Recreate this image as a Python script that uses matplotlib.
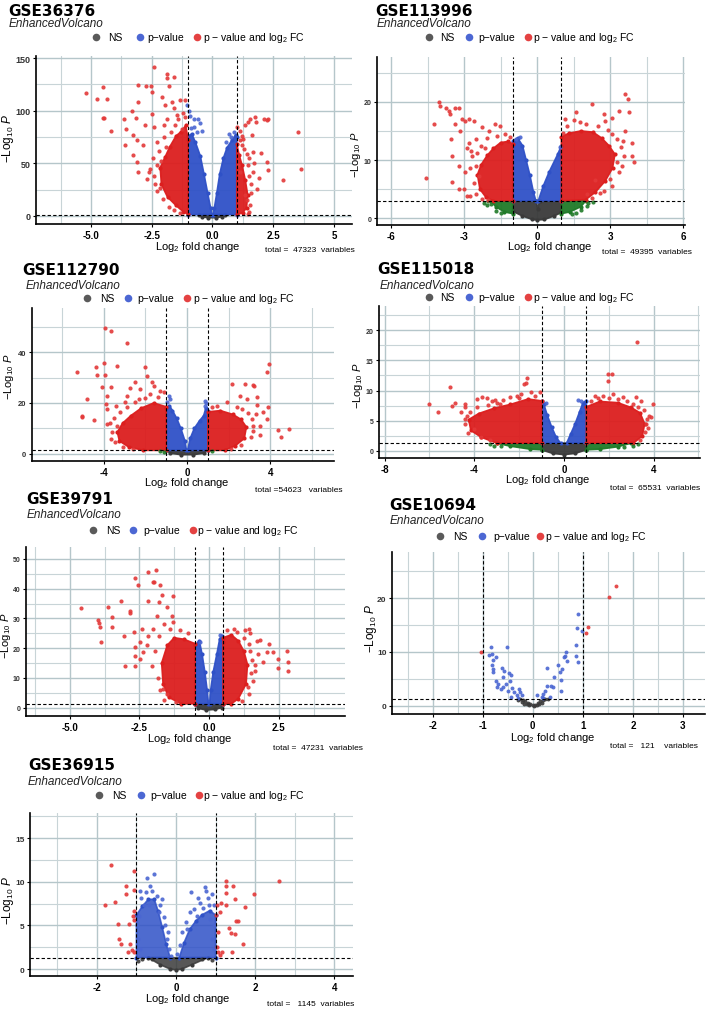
import matplotlib
matplotlib.use('Agg')
import matplotlib.pyplot as plt
from matplotlib.ticker import MultipleLocator

plt.rcParams['font.family'] = ['Liberation Sans', 'DejaVu Sans']
plt.rcParams['mathtext.fontset'] = 'custom'
plt.rcParams['mathtext.rm'] = 'Liberation Sans'
plt.rcParams['mathtext.it'] = 'Liberation Sans:italic'
plt.rcParams['mathtext.bf'] = 'Liberation Sans:bold'

# ---------------- data ----------------
# each "area" is the outline of a dense cloud, "pts" are single points

# GSE36376
gse36376_total = 47323
gse36376_grey = [(-0.55, 1.3), (-0.45, -0.6), (-0.2, -1.6), (0.15, -1.6), (0.4, -0.6), (0.5, 1.3)]
gse36376_blue_l = [(-1.0, 1.3), (-1.0, 76), (-0.85, 78), (-0.7, 70), (-0.5, 57), (-0.35, 40),
                   (-0.2, 22), (-0.08, 8), (-0.02, 1.3)]
gse36376_blue_r = [(0.02, 1.3), (0.08, 8), (0.18, 22), (0.3, 40), (0.45, 55), (0.6, 65),
                   (0.8, 72), (0.95, 77), (1.0, 75), (1.0, 1.3)]
gse36376_blue_pts = [(-1.03, 105), (-0.97, 100), (-0.92, 95), (-0.78, 92), (-0.58, 92), (-0.51, 88),
                     (-0.75, 85), (-0.44, 81), (-0.62, 80), (-0.9, 84), (0.66, 78), (0.75, 75),
                     (0.88, 80), (0.55, 70)]
gse36376_red_l = [(-1.0, 1.5), (-1.0, 72), (-1.1, 86), (-1.3, 80), (-1.5, 76), (-1.75, 66), (-1.95, 56),
                  (-2.15, 46), (-2.1, 30), (-1.85, 18), (-1.5, 10), (-1.2, 4)]
gse36376_red_r = [(1.0, 1.5), (1.0, 68), (1.1, 58), (1.22, 48), (1.35, 34), (1.45, 20), (1.4, 8), (1.25, 3)]
gse36376_red_pts = [(-5.19, 116.5), (-4.52, 122.8), (-4.73, 111.4), (-4.34, 110.8), (-4.52, 93.4),
                    (-4.45, 93), (-4.16, 80.7), (-3.66, 91.8), (-3.55, 82.3), (-3.32, 100), (-3.14, 93.4),
                    (-3.05, 124.7), (-3.07, 108.2), (-2.74, 123.1), (-2.53, 123.1), (-2.42, 141.5),
                    (-1.88, 135.1), (-1.88, 131.3), (-1.6, 132), (-1.78, 123.4), (-2.49, 117.7),
                    (-2.08, 113), (-1.33, 109.8), (-1.12, 109.8), (-1.95, 105), (-1.6, 102.5),
                    (-2.49, 97.2), (-3.11, 71.8), (-3.25, 76.6), (-3.59, 67.1), (-3.25, 57.6),
                    (-3.11, 51.3), (-3.08, 41.8), (-2.7, 35.4), (-2.63, 41.8), (-2.29, 48.1),
                    (-2.84, 67.1), (-2.77, 86.1), (-2.42, 84.5), (-2.15, 26.6), (-2.29, 70.3),
                    (-1.88, 92.4), (-1.47, 95.6), (-1.26, 82.9),
                    (-2.0, 75), (-1.7, 80), (-1.4, 92), (-2.2, 62), (-2.45, 55), (-2.55, 45), (-2.4, 38),
                    (-2.3, 24), (-2.05, 16), (-1.8, 9), (-1.6, 6), (-1.35, 2.5), (-2.0, 86), (-1.2, 98),
                    (-1.65, 108), (-2.35, 30), (-1.9, 66), (-2.1, 52), (-1.15, 94), (-1.55, 86),
                    (1.02, 84.5), (1.14, 81), (1.34, 86), (1.48, 89), (1.55, 92.4), (1.75, 94),
                    (1.79, 89), (2.1, 92.4), (2.23, 90.8), (2.3, 92.4), (3.53, 79.7), (3.64, 44.9),
                    (2.89, 34.5), (2.3, 43.4), (2.23, 51.3), (2.0, 60.1), (1.82, 25.9), (1.68, 60.8),
                    (1.41, 59.2), (1.27, 73.4), (1.21, 67.1), (1.62, 76.6), (1.41, 14.9), (1.34, 19.6),
                    (1.68, 41.8), (1.48, 48.1), (1.14, 41.8), (1.07, 48.1),
                    (1.58, 30), (1.55, 10), (1.5, 4), (1.2, 76), (1.3, 64), (1.5, 55), (1.72, 50),
                    (1.9, 36), (1.45, 2), (1.6, 22), (1.12, 72), (1.5, 38)]

# GSE113996
gse113996_total = 49395
gse113996_grey = [(-1.0, 3), (-1.0, 1.2), (-0.6, 0.4), (-0.2, -0.2), (0.0, -0.3), (0.3, -0.2), (0.7, 0.4),
                  (1.0, 1.0), (1.0, 3), (0.1, 3), (0.03, 1.6), (-0.05, 3)]
gse113996_green_l = [(-1.0, 3), (-1.9, 3), (-1.7, 2), (-1.35, 1.1), (-1.0, 0.8)]
gse113996_green_r = [(1.0, 3), (2.0, 3), (1.8, 2), (1.35, 1.1), (1.0, 0.8)]
gse113996_green_pts = [(-1.9, 2.5), (-1.7, 1.3), (-2.0, 2.9), (-2.2, 2.6), (-1.5, 0.9), (-2.05, 2.2),
                       (1.8, 1.5), (2.1, 2.7), (1.6, 0.9), (2.3, 2.8), (2.05, 2.1), (1.45, 0.7)]
gse113996_blue_l = [(-1.0, 3), (-1.0, 13.3), (-0.8, 13.8), (-0.6, 12.5), (-0.45, 10), (-0.3, 7.5),
                    (-0.15, 4.5), (-0.05, 3)]
gse113996_blue_r = [(0.05, 3), (1.0, 3), (1.0, 12.5), (0.85, 11), (0.5, 8), (0.25, 5.5)]
gse113996_blue_pts = [(-0.7, 13.9), (-0.88, 13.6), (0.95, 12.3)]
gse113996_red_l = [(-1.0, 3), (-1.0, 12.8), (-1.2, 13.2), (-1.5, 13), (-1.8, 12), (-2.05, 10.8),
                   (-2.3, 9.2), (-2.45, 7.5), (-2.35, 5), (-2.1, 3.6), (-1.8, 3)]
gse113996_red_r = [(1.0, 3), (1.0, 14), (1.3, 14.6), (1.8, 15), (2.3, 14.8), (2.65, 13.8), (2.95, 12.5),
                   (3.2, 11), (3.1, 8.6), (2.8, 6.4), (2.4, 4.5), (2.0, 3.2)]
gse113996_red_pts = [(-4.55, 7.0), (-4.25, 16.2), (-4.04, 20), (-4.01, 19.3), (-3.74, 19), (-3.63, 18.5),
                     (-3.56, 17.9), (-3.36, 19), (-3.22, 19), (-3.08, 17), (-2.95, 16.7), (-2.81, 17),
                     (-2.6, 16.7), (-3.52, 13.6), (-3.49, 6.2), (-3.22, 5.0), (-3.01, 5.0), (-2.88, 3.9),
                     (-2.74, 3.9), (-3.36, 16.2), (-3.15, 15), (-2.81, 13), (-2.67, 10.7), (-2.53, 9),
                     (-2.4, 7.3), (-2.53, 13.6), (-2.26, 15.6), (-1.99, 15), (-1.71, 16.2), (-1.51, 15.9),
                     (-3.22, 9.0), (-2.95, 7.9), (-3.49, 10.7),
                     (-2.7, 11.5), (-2.75, 8.6), (-2.6, 6), (-2.5, 4.2), (-2.25, 3.3), (-2.05, 13.8),
                     (-1.65, 14.2), (-1.3, 14.4), (-2.3, 12.4), (-2.0, 3.2), (-2.9, 12), (-2.45, 11.2),
                     (-1.1, 13.9), (-2.15, 12),
                     (3.6, 21.4), (3.74, 20.5), (2.26, 19.6), (2.74, 17.9), (3.08, 17.3), (2.81, 16.7),
                     (3.36, 18.5), (3.77, 18.2), (3.9, 13), (3.97, 9.6), (3.9, 10.7), (3.56, 10.7),
                     (3.49, 9.0), (3.36, 7.9), (3.08, 5.6), (2.74, 4.7), (2.37, 6.5), (2.05, 4.2),
                     (1.58, 18.2), (1.16, 17), (1.05, 14.7), (1.78, 16.5), (3.08, 14.5), (3.63, 15),
                     (3.45, 12.3), (3.3, 13.6), (3.3, 9.6), (3.0, 6.8), (2.6, 4.3), (2.25, 3.5),
                     (1.25, 15.8), (2.0, 16.2), (2.5, 15.9), (2.9, 15.2), (1.5, 16.8), (3.55, 13.2)]

# GSE112790
gse112790_total = 54623
gse112790_grey = [(-1.0, 1.3), (1.0, 1.3), (0.8, 0.2), (0.3, -0.4), (-0.3, -0.4), (-0.8, 0.2)]
gse112790_green_pts = [(-1.1, 0.8), (1.2, 0.9), (-1.3, 1.0)]
gse112790_blue_l = [(-1.0, 1.3), (-1.0, 18), (-0.85, 19), (-0.7, 17), (-0.5, 14), (-0.3, 10),
                    (-0.1, 5), (-0.03, 1.3)]
gse112790_blue_r = [(0.03, 1.3), (0.15, 6), (0.35, 10), (0.6, 13), (0.8, 15), (0.9, 18), (1.0, 17),
                    (1.0, 1.3)]
gse112790_blue_pts = [(-0.88, 22.9), (-0.8, 21.5), (-0.95, 20.5), (0.88, 20.9), (0.93, 20), (0.85, 19)]
gse112790_red_l = [(-1.0, 1.3), (-1.0, 18.5), (-1.6, 20), (-2.2, 18), (-2.7, 15), (-3.1, 12), (-3.35, 8.5),
                   (-3.25, 5), (-2.8, 2.6), (-2.1, 1.3)]
gse112790_red_r = [(1.0, 1.3), (1.0, 16.5), (1.6, 17), (2.2, 15.5), (2.6, 13.5), (2.85, 10.5), (2.75, 6),
                   (2.3, 3), (1.8, 1.3)]
gse112790_red_pts = [(-5.3, 32.4), (-4.79, 21.6), (-5.06, 14.7), (-5.03, 14.3), (-4.47, 13.4),
                     (-4.39, 34.3), (-4.31, 31.1), (-3.96, 49.6), (-3.67, 48.6), (-3.99, 35.8),
                     (-3.94, 31.1), (-4.07, 26.4), (-3.67, 26.4), (-3.87, 22.9), (-3.91, 19.6),
                     (-3.83, 17.6), (-3.83, 11.7), (-3.35, 34.7), (-2.88, 43.7), (-2.75, 25.8),
                     (-2.48, 28.2), (-2.04, 34.3), (-1.92, 30.5), (-1.68, 28.2), (-1.6, 26.8),
                     (-2.88, 22.9), (-3.43, 18.9), (-3.67, 5.8), (-3.35, 11.1), (-1.28, 24.9),
                     (-1.12, 24.2), (-2.24, 25.5),
                     (-3.5, 14), (-3.2, 16.5), (-2.9, 18.5), (-2.5, 20.5), (-2.0, 22), (-1.4, 22.5),
                     (-3.6, 8.5), (-3.45, 4.5), (-3.1, 2.5), (-2.6, 1.8), (-1.8, 23.5), (-3.0, 20.5),
                     (-3.7, 12), (-2.3, 21.5),
                     (3.96, 35.4), (3.83, 32.1), (3.23, 26.6), (3.15, 27.1), (2.8, 27.5), (2.16, 27.5),
                     (2.56, 22.9), (2.88, 21.6), (3.35, 22.2), (3.91, 18.6), (3.67, 16.6), (3.35, 19.2),
                     (4.39, 9.3), (4.52, 6.4), (4.9, 9.7), (3.83, 13.7), (3.51, 11.1), (3.19, 9.1),
                     (1.92, 20.3), (1.44, 18.9), (2.64, 17.6),
                     (3.1, 13.5), (3.15, 11), (3.05, 6.5), (2.6, 3.5), (2.1, 1.8), (2.4, 18.5),
                     (1.2, 18.3), (3.3, 15.5), (2.95, 16.2), (3.5, 7.5)]

# GSE115018
gse115018_total = 65531
gse115018_grey = [(-1.0, 1.3), (-1.0, 0.2), (-0.5, -0.4), (0.0, -0.6), (0.5, -0.4), (1.0, 0.2), (1.0, 1.3)]
gse115018_green_l = [(-1.0, 1.3), (-3.0, 1.3), (-2.4, 0.8), (-1.5, 0.3), (-1.0, 0.2)]
gse115018_green_r = [(1.0, 1.3), (3.0, 1.3), (2.4, 0.7), (1.6, 0.3), (1.0, 0.2)]
gse115018_green_pts = [(-3.3, 1.1), (3.1, 0.9), (3.3, 1.2), (-2.8, 0.8), (-3.1, 0.9), (2.7, 0.7)]
gse115018_blue_l = [(-1.0, 1.3), (-1.0, 8.3), (-0.9, 7.8), (-0.75, 6), (-0.55, 4), (-0.35, 2.3), (-0.15, 1.3)]
gse115018_blue_r = [(0.12, 1.3), (0.3, 2.8), (0.5, 4.5), (0.7, 6.5), (0.85, 8), (1.0, 8.3), (1.0, 1.3)]
gse115018_blue_pts = [(-0.8, 7.9), (0.64, 8.5), (0.78, 8.3)]
gse115018_red_l = [(-1.0, 1.3), (-1.0, 8.3), (-1.6, 8.6), (-2.4, 7.7), (-3.1, 7.1), (-3.8, 6.2), (-4.25, 5.2),
                   (-4.15, 3.4), (-3.7, 2.3), (-3.0, 1.3)]
gse115018_red_r = [(1.0, 1.3), (1.0, 7.3), (1.6, 8.2), (2.4, 8.0), (3.0, 7.2), (3.4, 6.3), (3.6, 4.5),
                   (3.5, 2.5), (3.1, 1.3)]
gse115018_red_pts = [(-6.04, 7.8), (-5.64, 6.4), (-5.08, 10.6), (-4.98, 7.5), (-4.86, 7.9), (-4.42, 7.8),
                     (-4.43, 7.2), (-3.87, 8.6), (-3.65, 8.9), (-3.43, 8.7), (-3.21, 8.3), (-3.06, 8.4),
                     (-2.84, 7.8), (-1.65, 12), (-1.7, 11.3), (-1.77, 11.1), (-2.1, 9.1), (-1.48, 9.7),
                     (-1.06, 9.7), (-4.31, 5.8), (-4.42, 5.3), (-3.72, 2.3), (-4.02, 3.6), (-2.39, 8.9),
                     (-4.4, 4.4), (-4.2, 6.4), (-3.9, 7.2), (-3.4, 7.6), (-2.7, 8.4), (-2.0, 8.8),
                     (-1.3, 9.1), (-3.3, 1.8), (-4.3, 3.0), (-1.9, 9.5), (-3.0, 7.9), (-4.6, 6.5),
                     (3.26, 18), (1.96, 12.7), (2.14, 12.8), (1.96, 11.6), (1.74, 9.1), (2.19, 9.4),
                     (3.22, 8.9), (3.44, 8.3), (3.96, 7.8), (3.81, 5.8), (3.88, 5.6), (3.63, 3.2),
                     (3.66, 4.5), (3.07, 7.8), (2.63, 8.9), (1.37, 9.1),
                     (1.2, 8.2), (2.0, 8.7), (2.8, 8.2), (3.3, 7.3), (3.7, 5.3), (3.75, 3.8),
                     (3.4, 1.8), (1.5, 8.8), (3.55, 6.8), (2.4, 8.6)]

# GSE39791
gse39791_total = 47231
gse39791_grey = [(-0.5, 1.3), (-0.4, -0.2), (-0.1, -0.8), (0.2, -0.6), (0.45, 0.0), (0.5, 1.3)]
gse39791_blue_l = [(-0.5, 1.3), (-0.5, 21), (-0.35, 22.5), (-0.25, 18), (-0.15, 12), (-0.07, 6), (-0.02, 1.3)]
gse39791_blue_r = [(0.02, 1.3), (0.06, 6), (0.15, 12), (0.28, 18), (0.38, 23), (0.45, 24), (0.5, 22), (0.5, 1.3)]
gse39791_blue_pts = [(-0.32, 22.2), (0.4, 24.5)]
gse39791_red_l = [(-0.5, 1.3), (-0.5, 21.5), (-0.9, 23), (-1.25, 23.5), (-1.5, 21), (-1.7, 15), (-1.65, 8),
                  (-1.45, 3.5), (-1.0, 1.3)]
gse39791_red_r = [(0.5, 1.3), (0.5, 23.5), (0.8, 24.5), (1.05, 22.5), (1.25, 19), (1.38, 14.5), (1.33, 8),
                  (1.05, 3), (0.8, 1.3)]
gse39791_red_pts = [(-4.6, 33.5), (-4.0, 29.5), (-3.96, 28.4), (-3.9, 27), (-3.88, 22.2), (-3.64, 34),
                    (-3.48, 30.6), (-3.5, 27), (-3.15, 35.7), (-3.04, 24), (-3.03, 14.1), (-2.85, 31.8),
                    (-2.83, 32.6), (-2.65, 43.5), (-2.55, 41.3), (-2.7, 25.6), (-2.67, 20.3), (-2.64, 17.5),
                    (-2.67, 14.1), (-2.2, 45.7), (-1.91, 46.4), (-2.02, 42.4), (-1.96, 42.2), (-1.76, 41.3),
                    (-1.7, 37.9), (-2.18, 36), (-1.81, 35.4), (-1.28, 37.4), (-1.88, 30.7), (-1.52, 33.7),
                    (-1.34, 30.9), (-1.28, 28.7), (-2.36, 18.6), (-2.48, 16.4), (-2.24, 20.9), (-2.0, 26.5),
                    (-1.64, 6.3), (-1.52, 4.6), (-2.48, 22), (-2.42, 26.5),
                    (-1.8, 24), (-1.95, 19), (-2.05, 14), (-1.85, 10), (-1.75, 6), (-1.6, 2.5),
                    (-1.4, 26.5), (-1.05, 26), (-0.75, 25), (-1.6, 28), (-2.2, 24), (-1.2, 2.0),
                    (1.02, 25.3), (1.3, 26.2), (1.42, 26.5), (1.48, 25.1), (1.72, 22.5), (1.83, 22.8),
                    (2.17, 21.4), (2.07, 18.6), (2.31, 18.8), (2.49, 16.4), (2.46, 13.2), (2.81, 19.2),
                    (2.85, 15.2), (2.85, 12.2), (1.65, 12.4), (1.59, 9.1), (1.41, 6.8), (1.95, 15.2),
                    (1.48, 19.2),
                    (0.65, 26), (0.9, 26.5), (1.25, 23.5), (1.45, 21.5), (1.55, 16), (1.5, 11.5),
                    (1.45, 4.5), (1.2, 2.2), (1.75, 18), (1.65, 14.5)]

# GSE10694
gse10694_total = 121
gse10694_grey_pts = [(-0.25, 1.2), (-0.2, 1.0), (-0.15, 0.8), (-0.1, 0.5), (-0.05, 0.3), (0.0, 0.1),
                     (0.05, 0.2), (0.1, 0.5), (0.15, 0.8), (0.2, 1.1), (-0.3, 1.0), (-0.22, 0.6),
                     (-0.12, 0.3), (0.12, 0.3), (0.25, 1.2), (-0.08, 0.1), (0.03, 0.0), (0.08, 0.05),
                     (-0.18, 0.4), (0.18, 0.5), (0.3, 1.2)]
gse10694_blue_pts = [(-0.83, 10.9), (-0.87, 9.5), (-0.82, 9.6), (-0.73, 9.0), (-0.79, 8.5), (-0.82, 7.5),
                     (-0.79, 6.8), (-0.8, 6.2), (-0.74, 4.6), (-0.69, 4.0), (-0.71, 3.4), (-0.64, 3.1),
                     (-0.62, 7.0), (-0.57, 6.4), (-0.59, 5.3), (-0.54, 4.0), (-0.52, 11.0), (-0.47, 6.1),
                     (-0.44, 5.8), (-0.45, 4.5), (-0.42, 3.2), (-0.44, 1.6), (-0.37, 2.5), (-0.32, 2.0),
                     (-0.27, 3.1), (-0.25, 2.6), (-0.29, 1.4), (-0.22, 1.9), (-0.5, 2.8), (-0.59, 3.4),
                     (0.08, 1.9), (0.18, 1.7), (0.21, 2.2), (0.25, 2.8), (0.2, 1.4), (0.28, 3.7),
                     (0.29, 7.0), (0.35, 1.7), (0.36, 3.7), (0.41, 3.4), (0.43, 5.4), (0.51, 7.6),
                     (0.55, 6.2), (0.57, 4.7), (0.56, 2.8), (0.58, 6.8), (0.63, 9.0), (0.67, 9.9),
                     (0.68, 8.4), (0.65, 9.3), (0.87, 9.3), (0.91, 8.2), (0.87, 11.2), (0.91, 17.1),
                     (0.88, 14.5), (0.98, 13.9)]
gse10694_red_pts = [(-1.03, 9.9), (1.53, 20.2), (1.67, 22.2), (1.1, 14.7), (1.07, 13.5)]

# GSE36915
gse36915_total = 1145
gse36915_grey = [(-0.7, 1.3), (-0.4, 0.5), (-0.15, 0.0), (0.0, -0.1), (0.15, 0.0), (0.4, 0.5), (0.8, 1.3)]
gse36915_grey_pts = [(-0.85, 1.1), (-0.6, 1.2), (0.65, 1.2), (0.9, 1.0), (-0.95, 0.9)]
gse36915_blue_l = [(-1.0, 1.3), (-1.0, 6.2), (-0.85, 7.2), (-0.7, 8.0), (-0.55, 8.0), (-0.45, 6.6),
                   (-0.35, 4.8), (-0.25, 2.9), (-0.15, 1.3)]
gse36915_blue_r = [(0.08, 1.3), (0.2, 3), (0.35, 4.6), (0.5, 5.5), (0.65, 6.2), (0.85, 6.7), (1.0, 6.2), (1.0, 1.3)]
gse36915_blue_pts = [(-0.73, 10.4), (-0.56, 10.9), (-0.65, 9.5), (-0.91, 9.0), (-0.81, 7.4), (-0.69, 7.3),
                     (-0.94, 6.1), (-0.98, 5.0), (-0.96, 3.4), (-0.9, 2.3), (-0.48, 8.4), (-0.35, 8.0),
                     (-0.44, 6.5), (-0.27, 5.0), (-0.23, 3.4), (-0.18, 2.3), (-0.14, 1.5),
                     (-0.75, 8.8), (-0.6, 8.9), (-0.88, 8.1), (-0.4, 7.4), (-0.3, 6.0), (-0.2, 4.2),
                     (0.38, 8.8), (0.74, 9.4), (0.75, 9.0), (0.91, 8.6), (0.61, 7.6), (0.82, 7.3),
                     (0.36, 6.5), (0.53, 6.1), (0.86, 5.7), (0.95, 5.0), (0.15, 4.2), (0.28, 4.6),
                     (0.91, 3.4), (0.11, 2.7), (0.95, 2.3), (0.03, 1.7),
                     (0.45, 6.9), (0.68, 7.0), (0.95, 7.4), (0.25, 5.4), (0.55, 8.2), (0.8, 8.2)]
gse36915_red_pts = [(-1.65, 11.9), (-1.8, 7.4), (-1.53, 7.7), (-1.26, 9.5), (-1.26, 8.6), (-1.07, 11.3),
                    (-1.07, 9.1), (-1.47, 5.2), (-1.19, 5.2), (-1.44, 3.5), (-1.4, 2.9), (-1.17, 2.9),
                    (-1.22, 2.0), (-1.11, 2.2), (-1.07, 2.0), (-1.05, 6.7), (-1.08, 6.1), (-1.07, 5.6),
                    (2.61, 10.1), (1.96, 8.6), (1.26, 10.1), (1.26, 9.5), (1.45, 9.5), (1.26, 8.7),
                    (1.5, 8.0), (1.75, 7.1), (1.03, 7.4), (1.14, 7.6), (1.27, 7.4), (1.02, 6.2),
                    (1.12, 6.5), (1.33, 4.7), (1.38, 4.1), (1.5, 4.0), (1.52, 5.5), (1.56, 5.5),
                    (1.7, 2.9), (1.07, 4.2), (1.03, 2.5), (1.07, 1.9), (1.16, 1.9), (1.1, 1.6), (1.41, 2.0)]

# ---------------- drawing ----------------
W, H = 709, 1012
RED, RED_PT = '#DC1E1E', '#E33838'
BLUE, BLUE_PT = '#2F51C7', '#4A66D2'
GREY, GREEN = '#3A3A3A', '#1F7A28'
GRID_MAJ, GRID_MIN = '#B5C6CA', '#C8D4D7'

fig = plt.figure(figsize=(W / 100, H / 100), dpi=100)
over = fig.add_axes([0, 0, 1, 1])
over.set_xlim(0, W)
over.set_ylim(H, 0)
over.axis('off')


def xy(pts):
    return [p[0] for p in pts], [p[1] for p in pts]


def panel(box, xlim, ylim, xstep, ystep, xticks, xlabels, yticks, ysize, fc, pcut,
          areas, points, ms=9, fill_alpha=0.95):
    l, t, r, b = box
    ax = fig.add_axes([l / W, 1 - b / H, (r - l) / W, (b - t) / H])
    ax.set_facecolor('none')
    ax.set_xlim(*xlim)
    ax.set_ylim(*ylim)
    ax.xaxis.set_minor_locator(MultipleLocator(xstep / 2))
    ax.yaxis.set_minor_locator(MultipleLocator(ystep / 2))
    ax.set_xticks(xticks, xlabels)
    ax.set_yticks(yticks)
    ax.grid(which='major', color=GRID_MAJ, lw=1.0)
    ax.grid(which='minor', color=GRID_MIN, lw=0.8)
    ax.set_axisbelow(True)
    ax.tick_params(which='major', length=2.5, width=0.8, colors='black', pad=1.5)
    ax.tick_params(which='minor', length=0)
    ax.tick_params(axis='x', labelsize=7)
    ax.tick_params(axis='y', labelsize=ysize, labelcolor='#333333')
    for lab in ax.get_xticklabels() + ax.get_yticklabels():
        lab.set_fontweight('bold')
    for s in ('top', 'right'):
        ax.spines[s].set_visible(False)
    for s in ('left', 'bottom'):
        ax.spines[s].set_linewidth(1.2)
    for pts, col in areas:
        xs, ys = xy(pts)
        ax.fill(xs, ys, color=col, lw=1.2, alpha=fill_alpha, joinstyle='round', zorder=2)
        ax.scatter(xs, ys, s=ms, color=col, lw=0, zorder=2)
    for pts, col in points:
        xs, ys = xy(pts)
        ax.scatter(xs, ys, s=ms, color=col, alpha=0.9, lw=0, zorder=3)
    for v in (-fc, fc):
        ax.axvline(v, color='black', lw=0.8, ls=(0, (3, 2)), zorder=4)
    ax.axhline(pcut, color='black', lw=0.8, ls=(0, (3, 2)), zorder=4)
    return ax


def labels(name, tpos, epos, ly, marks, texts, xlab, ylab, tot, tot_text, ylsize=8.5):
    over.text(tpos[0], tpos[1], name, family='DejaVu Sans', fontweight='bold', fontsize=11,
              va='center', ha='left')
    over.text(epos[0], epos[1], 'EnhancedVolcano', style='italic', fontsize=8.5, va='center',
              ha='left', color='#222222')
    for mx, col in zip(marks, ('#5A5A5A', '#4C67D3', '#E44242')):
        over.scatter([mx], [ly], s=30, color=col, lw=0)
    for tx, s in zip(texts, ('NS', 'p\u2212value', 'p \u2212 value and log$_2$ FC')):
        over.text(tx, ly, s, fontsize=7.5, va='center', ha='left')
    over.text(xlab[0], xlab[1], 'Log$_2$ fold change', fontsize=8, ha='center', va='center')
    over.text(ylab[0], ylab[1], '\u2212Log$_{10}$ $\\mathit{P}$', fontsize=ylsize, rotation=90,
              ha='center', va='center')
    over.text(tot[0], tot[1], tot_text, fontsize=6, ha='left', va='center')


# GSE36376
panel((36, 57, 352, 225), (-7.26, 5.74), (-7.6, 152), 2.5, 50,
      [-5, -2.5, 0, 2.5, 5], ['-5.0', '-2.5', '0.0', '2.5', '5'], [0, 50, 100, 150], 6.5, 1, 1.3,
      [(gse36376_grey, GREY), (gse36376_blue_l, BLUE), (gse36376_blue_r, BLUE),
       (gse36376_red_l, RED), (gse36376_red_r, RED)],
      [(gse36376_blue_pts, BLUE_PT), (gse36376_red_pts, RED_PT)])
labels('GSE36376', (8, 11), (9, 24), 38, (96, 140, 197), (108, 147, 203), (198, 247), (8, 138),
       (265, 250), f'total =  {gse36376_total}  variables')

# GSE113996
panel((377, 58, 685, 226), (-6.58, 6.08), (-1.15, 27.7), 3, 10,
      [-6, -3, 0, 3, 6], ['-6', '-3', '0', '3', '6'], [0, 10, 20], 5, 1, 3,
      [(gse113996_grey, GREY), (gse113996_green_l, GREEN), (gse113996_green_r, GREEN),
       (gse113996_blue_l, BLUE), (gse113996_blue_r, BLUE),
       (gse113996_red_l, RED), (gse113996_red_r, RED)],
      [(gse113996_green_pts, GREEN), (gse113996_blue_pts, BLUE_PT), (gse113996_red_pts, RED_PT)])
labels('GSE113996', (375, 11), (377, 24), 38, (429, 469, 528), (440, 478, 533), (550, 247),
       (356, 155), (602, 252), f'total =  {gse113996_total}  variables', ylsize=8)

# GSE112790
panel((32, 309, 334, 462), (-7.45, 7.06), (-2.9, 57.5), 4, 20,
      [-4, 0, 4], ['-4', '0', '4'], [0, 20, 40], 5.5, 1, 1.3,
      [(gse112790_grey, GREY), (gse112790_blue_l, BLUE), (gse112790_blue_r, BLUE),
       (gse112790_red_l, RED), (gse112790_red_r, RED)],
      [(gse112790_green_pts, GREEN), (gse112790_blue_pts, BLUE_PT), (gse112790_red_pts, RED_PT)])
labels('GSE112790', (22, 270), (26, 286), 299, (87, 128, 187), (100, 137, 193), (187, 483),
       (9, 377), (255, 491), f'total ={gse112790_total}   variables', ylsize=8)

# GSE115018
panel((379, 307, 700, 459), (-8.25, 6.07), (-1.16, 24), 4, 5,
      [-8, -4, 0, 4], ['-8', '-4', '0', '4'], [0, 5, 10, 15, 20], 5, 1, 1.3,
      [(gse115018_grey, GREY), (gse115018_green_l, GREEN), (gse115018_green_r, GREEN),
       (gse115018_blue_l, BLUE), (gse115018_blue_r, BLUE),
       (gse115018_red_l, RED), (gse115018_red_r, RED)],
      [(gse115018_green_pts, GREEN), (gse115018_blue_pts, BLUE_PT), (gse115018_red_pts, RED_PT)])
labels('GSE115018', (377, 269), (380, 286), 298, (429, 469, 528), (440, 478, 533), (548, 480),
       (358, 386), (610, 489), f'total =  {gse115018_total}  variables', ylsize=8)

# GSE39791
panel((26, 548, 345, 717), (-6.57, 4.88), (-2.8, 54), 2.5, 10,
      [-5, -2.5, 0, 2.5], ['-5.0', '-2.5', '0.0', '2.5'], [0, 10, 20, 30, 40, 50], 5, 0.5, 1.3,
      [(gse39791_grey, GREY), (gse39791_blue_l, BLUE), (gse39791_blue_r, BLUE),
       (gse39791_red_l, RED), (gse39791_red_r, RED)],
      [(gse39791_blue_pts, BLUE_PT), (gse39791_red_pts, RED_PT)])
labels('GSE39791', (26, 499), (27, 515), 531, (93, 133, 193), (106, 143, 197), (190, 739),
       (6, 636), (273, 749), f'total =  {gse39791_total}  variables', ylsize=8)

# GSE10694
panel((392, 553, 705, 715), (-2.81, 3.44), (-1.55, 28.6), 1, 10,
      [-2, -1, 0, 1, 2, 3], ['-2', '-1', '0', '1', '2', '3'], [0, 10, 20], 6, 1, 1.3,
      [], [(gse10694_grey_pts, GREY), (gse10694_blue_pts, BLUE_PT), (gse10694_red_pts, RED_PT)], ms=8)
labels('GSE10694', (389, 505), (390, 521), 537, (440, 482, 540), (453, 493, 545), (553, 738),
       (371, 628), (610, 747), f'total =   {gse10694_total}    variables')

# GSE36915
panel((30, 814, 353, 977), (-3.69, 4.47), (-0.8, 17.9), 2, 5,
      [-2, 0, 2, 4], ['-2', '0', '2', '4'], [0, 5, 10, 15], 6, 1, 1.3,
      [(gse36915_grey, GREY), (gse36915_blue_l, BLUE), (gse36915_blue_r, BLUE)],
      [(gse36915_grey_pts, GREY), (gse36915_blue_pts, BLUE_PT), (gse36915_red_pts, RED_PT)],
      fill_alpha=0.85)
labels('GSE36915', (28, 765), (28, 782), 796, (99, 141, 199), (112, 150, 203), (188, 999),
       (8, 900), (267, 1005), f'total =   {gse36915_total}  variables')

fig.savefig('out.png', dpi=100)
